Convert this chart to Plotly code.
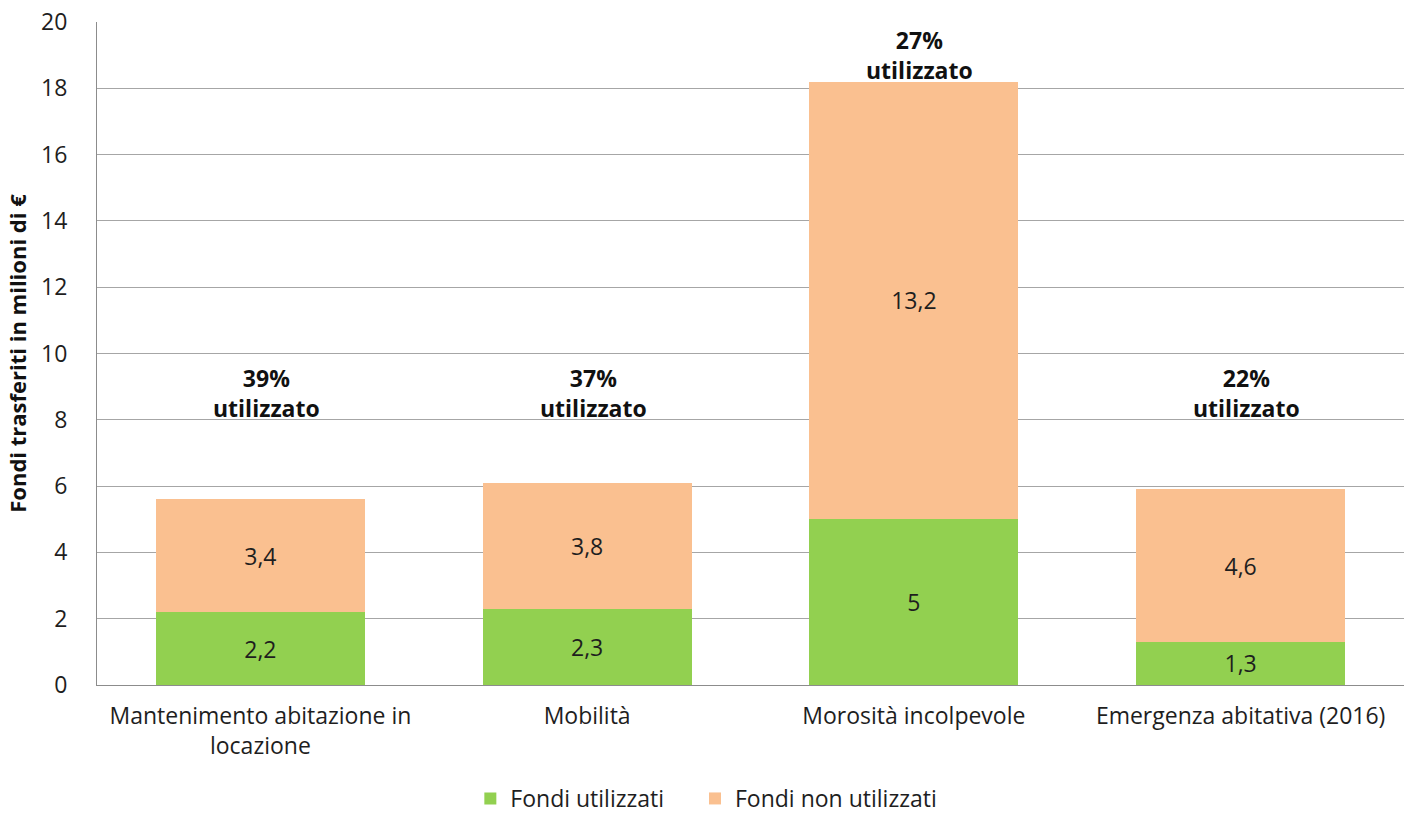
import plotly.graph_objects as go

# Fondi trasferiti per linea di intervento (milioni di €)
categories = [
    "Mantenimento abitazione in<br>locazione",
    "Mobilità",
    "Morosità incolpevole",
    "Emergenza abitativa (2016)",
]
fondi_utilizzati = [2.2, 2.3, 5, 1.3]
fondi_non_utilizzati = [3.4, 3.8, 13.2, 4.6]
quota_utilizzata = [39, 37, 27, 22]

GREEN = "#92D050"
ORANGE = "#FAC090"
FONT = "Open Sans"
TXT = "#1e1e1e"
SIZE = 23

fig = go.Figure()
for values, name, color, leg in [
    (fondi_utilizzati, "Fondi utilizzati", GREEN, "legend"),
    (fondi_non_utilizzati, "Fondi non utilizzati", ORANGE, "legend2"),
]:
    fig.add_trace(go.Bar(
        x=categories, y=values, name=name, legend=leg,
        marker=dict(color=color, line=dict(width=0)),
        texttemplate="%{y}", textposition="inside", insidetextanchor="middle",
        textfont=dict(family=FONT, size=SIZE, color=TXT),
    ))

# Etichette percentuali sopra ciascuna colonna
for cat, u, n, p in zip(categories, fondi_utilizzati, fondi_non_utilizzati, quota_utilizzata):
    total = u + n
    fig.add_annotation(
        x=cat, y=max(total + 0.8, 8.8),
        text=f"<b>{p}%<br>utilizzato</b>",
        showarrow=False, xshift=6,
        font=dict(family=FONT, size=23, color="#111111"),
    )

legend_style = dict(
    orientation="h", xref="container", xanchor="left",
    yref="container", y=0.0, yanchor="bottom",
    font=dict(family=FONT, size=SIZE, color=TXT),
    itemwidth=30, bgcolor="rgba(0,0,0,0)",
)

fig.update_layout(
    barmode="stack",
    bargap=0.36,
    separators=",.",
    width=1404, height=820,
    margin=dict(l=97, r=0, t=22, b=135),
    paper_bgcolor="white", plot_bgcolor="white",
    font=dict(family=FONT, size=SIZE, color=TXT),
    showlegend=True,
    legend=dict(x=0.335, **legend_style),
    legend2=dict(x=0.495, **legend_style),
)
fig.update_xaxes(
    showline=True, linecolor="#8c8c8c", linewidth=1,
    ticks="", ticklabelstandoff=10, automargin=False,
    tickfont=dict(family=FONT, size=SIZE, color=TXT),
)
fig.update_yaxes(
    range=[0, 20], dtick=2, automargin=False,
    showgrid=True, gridcolor="#a6a6a6", gridwidth=1,
    showline=True, linecolor="#8c8c8c", linewidth=1,
    zeroline=False, ticks="", ticklabelstandoff=24,
    tickfont=dict(family=FONT, size=SIZE, color=TXT),
    title=dict(text="<b>Fondi trasferiti in milioni di €</b>",
               font=dict(family=FONT, size=22, color="#111111"), standoff=8),
)

fig.write_html("out.html")
